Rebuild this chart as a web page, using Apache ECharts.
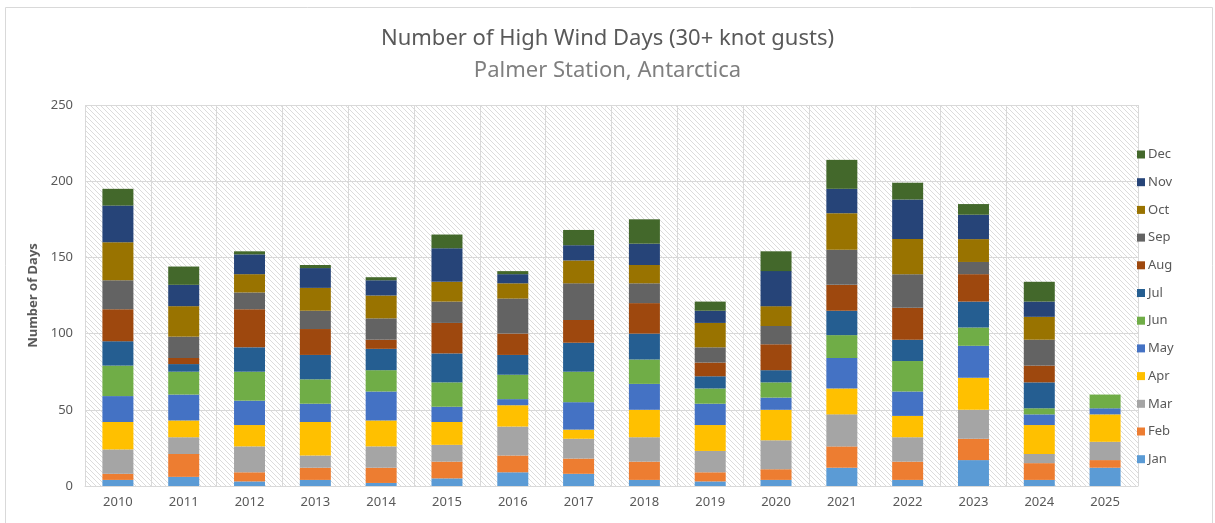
<!DOCTYPE html>
<html>
<head>
<meta charset="utf-8">
<script src="https://cdn.jsdelivr.net/npm/echarts@6/dist/echarts.min.js"></script>
<style>
  html, body { margin: 0; padding: 0; background: #fff; }
  #chart { width: 1215px; height: 523px; }
</style>
</head>
<body>
<div id="chart"></div>
<script>
var years = ["2010", "2011", "2012", "2013", "2014", "2015", "2016", "2017",
             "2018", "2019", "2020", "2021", "2022", "2023", "2024", "2025"];
var months = ["Jan", "Feb", "Mar", "Apr", "May", "Jun", "Jul", "Aug", "Sep", "Oct", "Nov", "Dec"];
var monthColors = ["#5B9BD5", "#ED7D31", "#A5A5A5", "#FFC000", "#4472C4", "#70AD47",
                   "#255E91", "#9E480E", "#636363", "#997300", "#264478", "#43682B"];

// days per month, one entry per year (2010..2025)
var jan = [4, 6, 3, 4, 2, 5, 9, 8, 4, 3, 4, 12, 4, 17, 4, 12];
var feb = [4, 15, 6, 8, 10, 11, 11, 10, 12, 6, 7, 14, 12, 14, 11, 5];
var mar = [16, 11, 17, 8, 14, 11, 19, 13, 16, 14, 19, 21, 16, 19, 6, 12];
var apr = [18, 11, 14, 22, 17, 15, 14, 6, 18, 17, 20, 17, 14, 21, 19, 18];
var may = [17, 17, 16, 12, 19, 10, 4, 18, 17, 14, 8, 20, 16, 21, 7, 4];
var jun = [20, 15, 19, 16, 14, 16, 16, 20, 16, 10, 10, 15, 20, 12, 4, 9];
var jul = [16, 5, 16, 16, 14, 19, 13, 19, 17, 8, 8, 16, 14, 17, 17, 0];
var aug = [21, 4, 25, 17, 6, 20, 14, 15, 20, 9, 17, 17, 21, 18, 11, 0];
var sep = [19, 14, 11, 12, 14, 14, 23, 24, 13, 10, 12, 23, 22, 8, 17, 0];
var oct = [25, 20, 12, 15, 15, 13, 10, 15, 12, 16, 13, 24, 23, 15, 15, 0];
var nov = [24, 14, 13, 13, 10, 22, 6, 10, 14, 8, 23, 16, 26, 16, 10, 0];
var dec = [11, 12, 2, 2, 2, 9, 2, 10, 16, 6, 13, 19, 11, 7, 13, 0];
var monthData = [jan, feb, mar, apr, may, jun, jul, aug, sep, oct, nov, dec];

// light diagonal hatch for the plot area
function hatch() {
  var c = document.createElement("canvas");
  c.width = 5;
  c.height = 5;
  var ctx = c.getContext("2d");
  ctx.fillStyle = "#ffffff";
  ctx.fillRect(0, 0, 5, 5);
  ctx.fillStyle = "#dcdcdc";
  for (var i = 0; i < 5; i++) {
    ctx.fillRect(i, i, 1, 1);
  }
  return c;
}

var chart = echarts.init(document.getElementById("chart"));

var series = months.map(function (m, i) {
  return {
    name: m,
    type: "bar",
    stack: "total",
    barWidth: 31,
    itemStyle: { color: monthColors[i] },
    emphasis: { disabled: true },
    data: monthData[i]
  };
});

chart.setOption({
  animation: false,
  textStyle: { fontFamily: "Noto Sans" },
  title: [
    {
      text: "Number of High Wind Days (30+ knot gusts)",
      left: "center",
      top: 23,
      textStyle: { color: "#595959", fontSize: 22, fontWeight: "normal" }
    },
    {
      text: "Palmer Station, Antarctica",
      left: "center",
      top: 55,
      textStyle: { color: "#7f7f7f", fontSize: 22, fontWeight: "normal" }
    }
  ],
  graphic: [
    {
      type: "rect",
      shape: { x: 5.5, y: 7.5, width: 1207, height: 530 },
      style: { fill: "none", stroke: "#d9d9d9", lineWidth: 1 },
      silent: true
    }
  ],
  legend: {
    orient: "vertical",
    left: 1132,
    top: 143,
    data: months.slice().reverse(),
    icon: "rect",
    itemWidth: 8,
    itemHeight: 8,
    itemGap: 14.7,
    selectedMode: false,
    textStyle: { color: "#595959", fontSize: 13, padding: [0, 0, 0, -2] }
  },
  grid: {
    left: 85,
    right: 77,
    top: 105,
    bottom: 37,
    show: true,
    borderWidth: 0,
    backgroundColor: { image: hatch(), repeat: "repeat" }
  },
  xAxis: {
    type: "category",
    data: years,
    axisLine: { lineStyle: { color: "#d9d9d9" } },
    axisTick: { show: false },
    splitLine: { show: true, interval: 0, lineStyle: { color: "#d9d9d9" } },
    axisLabel: { color: "#595959", fontSize: 13, margin: 10, interval: 0 }
  },
  yAxis: {
    type: "value",
    min: 0,
    max: 250,
    interval: 50,
    name: "Number of Days",
    nameLocation: "middle",
    nameGap: 42,
    nameTextStyle: { color: "#595959", fontSize: 13, fontWeight: "bold" },
    axisLine: { show: false },
    axisTick: { show: false },
    splitLine: { lineStyle: { color: "#d9d9d9" } },
    axisLabel: { color: "#595959", fontSize: 13, margin: 12 }
  },
  series: series
});
</script>
</body>
</html>
